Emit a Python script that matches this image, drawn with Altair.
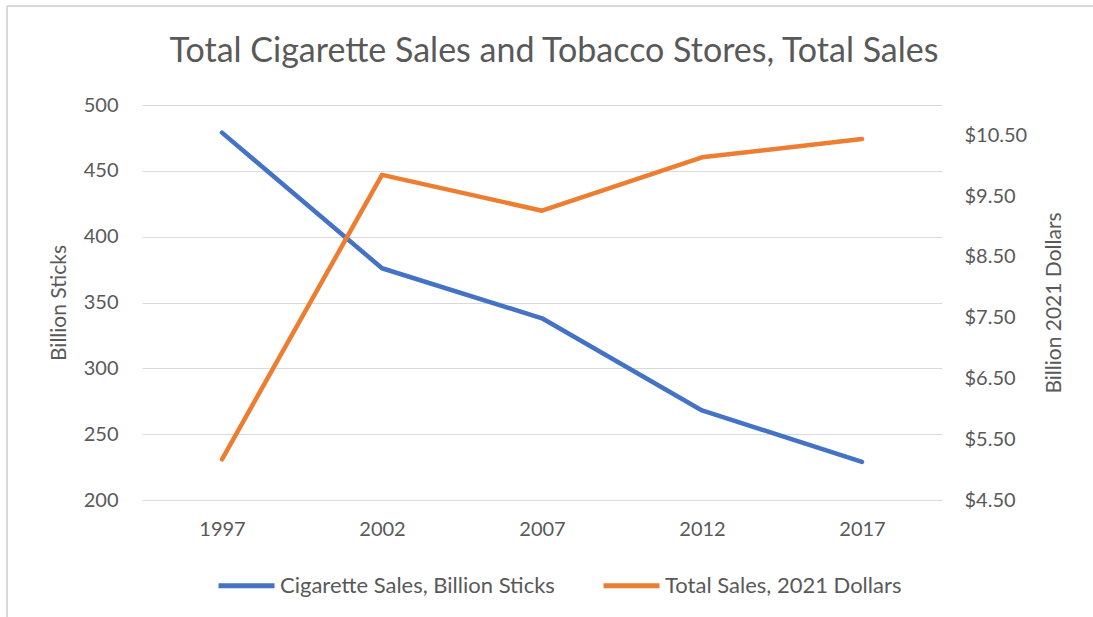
import altair as alt
import pandas as pd

years = ["1997", "2002", "2007", "2012", "2017"]
cig_sales = [479, 376, 338, 268, 229]
total_sales = [5.17, 9.85, 9.26, 10.14, 10.44]

s1 = "Cigarette Sales, Billion Sticks"
s2 = "Total Sales, 2021 Dollars"

df = pd.DataFrame({"year": years, "cig": cig_sales, "sales": total_sales})

FONT = "Lato"
GREY = "#595959"

x = alt.X("year:O", title=None,
          scale=alt.Scale(type="point", padding=0.5),
          axis=alt.Axis(labelAngle=0, labelFontSize=20, labelColor=GREY, labelFont=FONT,
                        domain=False, ticks=False, labelPadding=19, grid=False))

color = alt.Color("series:N",
                  scale=alt.Scale(domain=[s1, s2], range=["#4472C4", "#ED7D31"]),
                  legend=alt.Legend(title=None, orient="none", direction="horizontal",
                                    legendX=74, legendY=450, symbolType="stroke",
                                    symbolStrokeWidth=5, symbolSize=3136,
                                    labelFontSize=22, labelColor=GREY, labelFont=FONT,
                                    labelLimit=0, labelOffset=3, columnPadding=38))

left = alt.Chart(df).transform_calculate(series=f"'{s1}'").mark_line(
    strokeWidth=4.5, strokeCap="round", strokeJoin="round").encode(
    x=x,
    y=alt.Y("cig:Q", title="Billion Sticks",
            scale=alt.Scale(domain=[200, 500], nice=False, zero=False),
            axis=alt.Axis(values=[200, 250, 300, 350, 400, 450, 500], labelFontSize=20,
                          labelColor=GREY, labelFont=FONT, domain=False, ticks=False,
                          labelPadding=24, gridColor="#D9D9D9", gridWidth=1.2,
                          titleFontSize=21, titleColor=GREY, titleFont=FONT,
                          titleFontWeight="normal", titlePadding=14)),
    color=color,
)

right = alt.Chart(df).transform_calculate(series=f"'{s2}'").mark_line(
    strokeWidth=4.5, strokeCap="round", strokeJoin="round").encode(
    x=x,
    y=alt.Y("sales:Q", title="Billion 2021 Dollars",
            scale=alt.Scale(domain=[4.5, 11], nice=False, zero=False),
            axis=alt.Axis(orient="right", values=[4.5, 5.5, 6.5, 7.5, 8.5, 9.5, 10.5],
                          format="$.2f", labelFontSize=20, labelColor=GREY, labelFont=FONT,
                          domain=False, ticks=False, grid=False, labelPadding=22,
                          titleFontSize=21, titleColor=GREY, titleFont=FONT, titleAngle=270,
                          titleFontWeight="normal", titlePadding=38)),
    color=color,
)

border_left = alt.Chart(df).mark_rule(color="#D9D9D9", strokeWidth=1.5, clip=False).encode(
    x=alt.value(-135), y=alt.value(-99), y2=alt.value(520)
)
border_top = alt.Chart(df).mark_rule(color="#D9D9D9", strokeWidth=1.5, clip=False).encode(
    x=alt.value(-135), x2=alt.value(1000), y=alt.value(-99)
)

chart = alt.layer(border_left, border_top, left, right).resolve_scale(y="independent").properties(
    width=800, height=395,
    background="white",
    autosize=alt.AutoSizeParams(type="none"),
    padding={"left": 142, "top": 105, "right": 151, "bottom": 117},
    title=alt.Title("Total Cigarette Sales and Tobacco Stores, Total Sales",
                    fontSize=34, font=FONT, color=GREY, fontWeight="normal",
                    anchor="middle", offset=0, dy=64, dx=12),
).configure_view(stroke="transparent", strokeWidth=0)

chart.save("out.html", embed_options={"renderer": "svg", "actions": False})
